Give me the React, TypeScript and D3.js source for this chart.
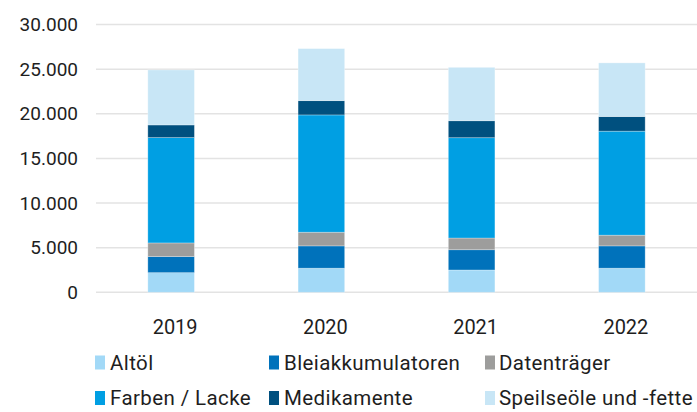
import React from "react";
import * as d3 from "d3";

const years = ["2019", "2020", "2021", "2022"];
const seriesNames = ["Altöl", "Bleiakkumulatoren", "Datenträger", "Farben / Lacke", "Medikamente", "Speilseöle und -fette"];
const altoel = [2200, 2700, 2500, 2700];
const blei = [1800, 2500, 2270, 2500];
const daten = [1530, 1530, 1310, 1200];
const farben = [11800, 13140, 11240, 11650];
const medikamente = [1420, 1600, 1900, 1640];
const speiseoele = [6160, 5830, 5980, 6010];
const yTicks = [0, 5000, 10000, 15000, 20000, 25000, 30000];
const colors = ["#a2d9f7", "#0072bb", "#9d9d9c", "#009fe3", "#00507f", "#c8e6f6"];

const W = 697;
const H = 412;

export default function App() {
  const values = [altoel, blei, daten, farben, medikamente, speiseoele];
  const rows = years.map((y, i) => {
    const r: any = { year: y };
    seriesNames.forEach((s, k) => (r[s] = values[k][i]));
    return r;
  });
  const stacked = d3.stack<any>().keys(seriesNames)(rows);
  const x = d3.scaleBand().domain(years).range([96, 697]).paddingInner(0.69).paddingOuter(0.345);
  const y = d3.scaleLinear().domain([0, 30000]).range([292.3, 24.5]);
  const fmt = (v: number) => d3.format(",")(v).replace(/,/g, ".");
  const legendPos = [
    [95, 110, 355.5],
    [269, 284, 355.5],
    [485, 499, 355.5],
    [95, 110, 391],
    [269, 284, 391],
    [485, 499, 391],
  ];
  return (
    <svg width={W} height={H} style={{ position: "absolute", left: 0, top: 0 }}>
      <rect width={W} height={H} fill="#fff" />
      {yTicks.map((t) => (
        <g key={t}>
          <line x1={96} x2={697} y1={y(t)} y2={y(t)} stroke="#e3e3e3" strokeWidth={1.5} />
          <text x={78} y={y(t) + 6.5} textAnchor="end" fontFamily="Roboto" fontSize={19} fill="#1e1e1e">
            {fmt(t)}
          </text>
        </g>
      ))}
      {stacked.map((s, k) => (
        <g key={s.key} fill={colors[k]}>
          {s.map((d, i) => (
            <rect
              key={i}
              x={x(years[i])!}
              width={x.bandwidth()}
              y={y(d[1])}
              height={y(d[0]) - y(d[1])}
              stroke="#ffffff"
              strokeOpacity={0.35}
              strokeWidth={0.8}
            />
          ))}
        </g>
      ))}
      {years.map((yr) => (
        <text key={yr} x={x(yr)! + x.bandwidth() / 2 + 4} y={334.3} textAnchor="middle" fontFamily="Roboto" fontSize={20} fill="#1e1e1e">
          {yr}
        </text>
      ))}
      {seriesNames.map((s, k) => (
        <g key={s}>
          <rect x={legendPos[k][0]} y={legendPos[k][2]} width={10} height={14} fill={colors[k]} />
          <text x={legendPos[k][1]} y={legendPos[k][2] + 14} fontFamily="Roboto" fontSize={20.5} letterSpacing={0.4} fill="#1e1e1e">
            {s}
          </text>
        </g>
      ))}
    </svg>
  );
}
